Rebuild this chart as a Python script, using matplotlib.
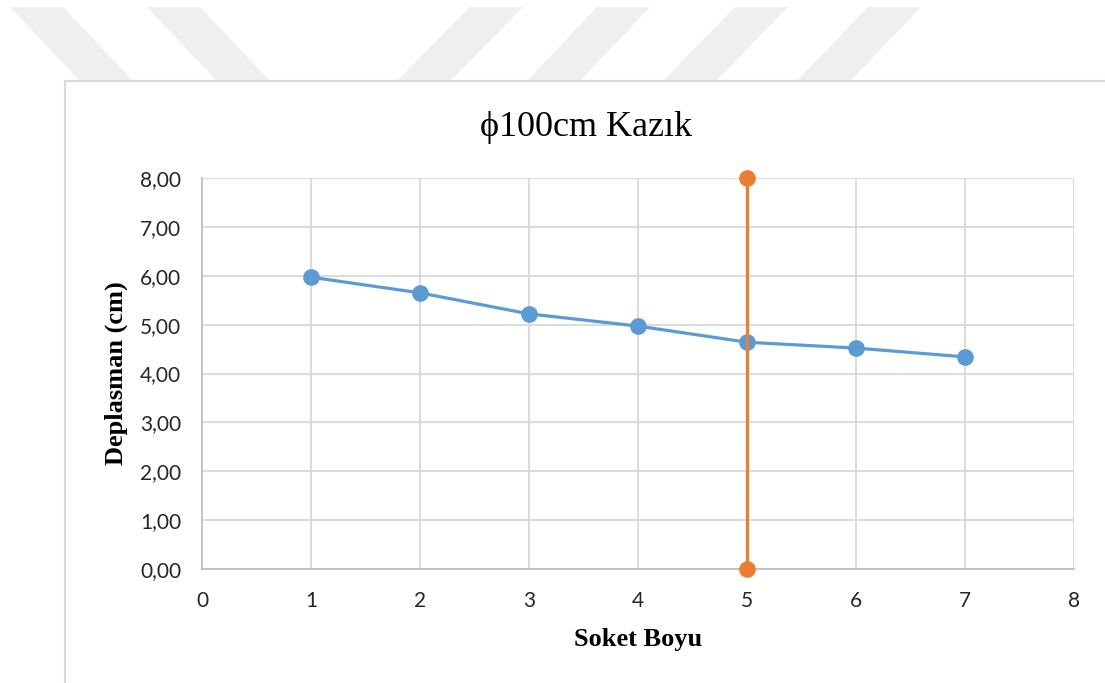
import matplotlib
matplotlib.use("Agg")
import matplotlib.pyplot as plt
from matplotlib.patches import Polygon, Rectangle

# soket boyu vs deplasman
soket_boyu = [1, 2, 3, 4, 5, 6, 7]
deplasman = [5.97, 5.65, 5.22, 4.97, 4.64, 4.52, 4.34]

# vertical reference line at soket = 5
ref_x = [5, 5]
ref_y = [0.0, 8.0]

x_ticks = [0, 1, 2, 3, 4, 5, 6, 7, 8]
y_ticks = [0, 1, 2, 3, 4, 5, 6, 7, 8]
y_tick_labels = ["0,00", "1,00", "2,00", "3,00", "4,00", "5,00", "6,00", "7,00", "8,00"]

W, H = 1105, 683
fig = plt.figure(figsize=(W / 100, H / 100), dpi=100)

def px(x, y):
    return (x / W, 1 - y / H)

# faint diagonal band pattern across the top of the page
bands = [(10, 80), (147, 217), (470, 397), (597, 527), (735, 663), (868, 797)]
for top_x, bot_x in bands:
    pts = [px(top_x, 7), px(top_x + 53, 7), px(bot_x + 53, 81), px(bot_x, 81)]
    fig.add_artist(Polygon(pts, closed=True, transform=fig.transFigure,
                           facecolor="#efefef", edgecolor="none", zorder=-3))

# chart frame
fx, fy = px(65, 81)
fig.add_artist(Rectangle((fx, -0.05), 1.0, fy + 0.05, transform=fig.transFigure,
                         facecolor="white", edgecolor="#d9d9d9", linewidth=1.5, zorder=-2))

ax = fig.add_axes([202 / W, 1 - 569 / H, (1074 - 202) / W, (569 - 178) / H])
ax.set_facecolor("none")

ax.plot(soket_boyu, deplasman, color="#5b9bd5", linewidth=2.3, marker="o",
        markersize=11, zorder=3)
ax.plot(ref_x, ref_y, color="#ed7d31", linewidth=2.3, marker="o",
        markersize=11, zorder=4, clip_on=False)

ax.set_xlim(0, 8)
ax.set_ylim(0, 8)
ax.set_xticks(x_ticks)
ax.set_yticks(y_ticks)
ax.set_yticklabels(y_tick_labels)
ax.grid(True, color="#d9d9d9", linewidth=1.3)
ax.set_axisbelow(True)
for side in ["top", "right"]:
    ax.spines[side].set_visible(False)
for side in ["left", "bottom"]:
    ax.spines[side].set_color("#bfbfbf")
    ax.spines[side].set_linewidth(1.3)
ax.tick_params(length=0, labelsize=15, labelcolor="#262626")
ax.tick_params(axis="x", pad=16)
ax.tick_params(axis="y", pad=15)
for lab in ax.get_xticklabels() + ax.get_yticklabels():
    lab.set_family("Lato")

fig.text(586 / W, 1 - 127 / H, "ϕ100cm Kazık", ha="center", va="center",
         fontsize=26, family=["Liberation Serif", "DejaVu Serif"])
ax.set_xlabel("Soket Boyu", fontsize=19, fontweight="bold",
              family="Liberation Serif", labelpad=12)
ax.set_ylabel("Deplasman (cm)", fontsize=19, fontweight="bold",
              family="Liberation Serif", labelpad=9)

fig.savefig("out.png", dpi=100)
